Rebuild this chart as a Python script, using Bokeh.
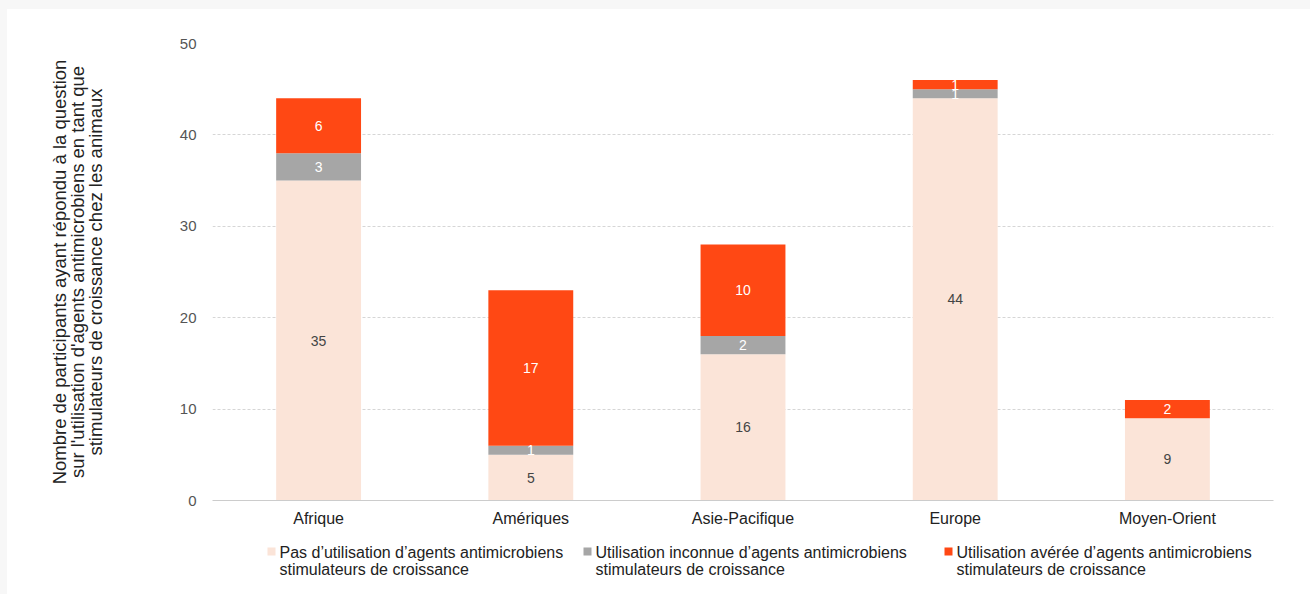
from bokeh.plotting import figure
from bokeh.models import ColumnDataSource, FactorRange, Range1d
from bokeh.layouts import column
from bokeh.embed import file_html
from bokeh.resources import INLINE
from bokeh.core.properties import value

regions = ["Afrique", "Amériques", "Asie-Pacifique", "Europe", "Moyen-Orient"]
no_use = [35, 5, 16, 44, 9]
unknown = [3, 1, 2, 1, 0]
known = [6, 17, 10, 1, 2]
series_names = [
    "Pas d’utilisation d’agents antimicrobiens\nstimulateurs de croissance",
    "Utilisation inconnue d’agents antimicrobiens\nstimulateurs de croissance",
    "Utilisation avérée d’agents antimicrobiens\nstimulateurs de croissance",
]
y_ticks = [0, 10, 20, 30, 40, 50]
y_title = ("Nombre de participants ayant répondu à la question\n"
           "sur l'utilisation d'agents antimicrobiens en tant que\n"
           "stimulateurs de croissance chez les animaux")

colors = ["#fbe4d8", "#a6a6a6", "#ff4814"]
text_colors = ["#444444", "#ffffff", "#ffffff"]
FONT = "Liberation Sans"

src = ColumnDataSource(dict(x=regions, a=no_use, b=unknown, c=known))

p = figure(x_range=FactorRange(*regions, range_padding=0), y_range=(0, 50),
           width=1303, height=530, output_backend="svg", toolbar_location=None,
           min_border_left=205, min_border_right=37, min_border_top=34,
           min_border_bottom=39)
p.margin = 0
p.outline_line_color = None
p.background_fill_color = "white"
p.border_fill_color = "white"

renderers = p.vbar_stack(["a", "b", "c"], x="x", width=0.4, source=src,
                         color=colors, line_color=None)

# segment labels
series = [no_use, unknown, known]
base = [0] * len(regions)
for s, tc in zip(series, text_colors):
    xs, ys, ts = [], [], []
    for i, v in enumerate(s):
        if v > 0:
            xs.append(regions[i]); ys.append(base[i] + v / 2); ts.append(str(v))
    p.text(x=xs, y=ys, text=ts, text_align="center", text_baseline="middle",
           text_font=value(FONT), text_font_size="14px", text_color=tc)
    base = [b + v for b, v in zip(base, s)]

# axes
p.yaxis.ticker = y_ticks
p.yaxis.axis_line_color = None
p.yaxis.major_tick_line_color = None
p.yaxis.minor_tick_line_color = None
p.yaxis.major_label_text_font = FONT
p.yaxis.major_label_text_font_size = "15px"
p.yaxis.major_label_text_color = "#555555"
p.yaxis.major_label_standoff = 10
p.yaxis.axis_label = y_title
p.yaxis.axis_label_text_font = FONT
p.yaxis.axis_label_text_font_size = "18.5px"
p.yaxis.axis_label_text_font_style = "normal"
p.yaxis.axis_label_text_color = "#222222"
p.yaxis.axis_label_text_line_height = 0.85
p.yaxis.axis_label_standoff = 71
p.yaxis.axis_label_text_align = "center"

p.xaxis.axis_line_color = "#cccccc"
p.xaxis.major_tick_line_color = None
p.xaxis.minor_tick_line_color = None
p.xaxis.major_label_text_font = FONT
p.xaxis.major_label_text_font_size = "16px"
p.xaxis.major_label_text_color = "#222222"
p.xaxis.major_label_standoff = 3

p.xgrid.grid_line_color = None
p.ygrid.grid_line_color = "#d6d6d6"
p.ygrid.grid_line_dash = "3 2"

# legend strip: frame aligned with the chart frame, pixel-space ranges
FRAME_W, LEG_H = 1061, 56
leg = figure(width=1303, height=LEG_H, x_range=Range1d(0, FRAME_W), y_range=Range1d(0, LEG_H),
             output_backend="svg", toolbar_location=None,
             min_border_left=205, min_border_right=37, min_border_top=0, min_border_bottom=0,
             x_axis_type=None, y_axis_type=None)
leg.margin = 0
leg.outline_line_color = None
leg.grid.visible = False
leg.border_fill_color = "white"
leg.background_fill_color = "white"
sw_x = [59, 375, 736]
leg.rect(x=sw_x, y=[44] * 3, width=8, height=8, color=colors, line_color=None)
leg.text(x=[x + 8 for x in sw_x], y=[52] * 3, text=series_names, text_align="left",
         text_baseline="top", text_font=value(FONT), text_font_size="16px",
         text_color="#222222", text_line_height=1.05)

inner = column(p, leg, spacing=0, styles={"background-color": "white"})
inner.margin = (9, 0, 0, 7)
layout = column(inner, styles={"background-color": "#f7f7f7"})
open("out.html", "w").write(file_html(layout, INLINE))
